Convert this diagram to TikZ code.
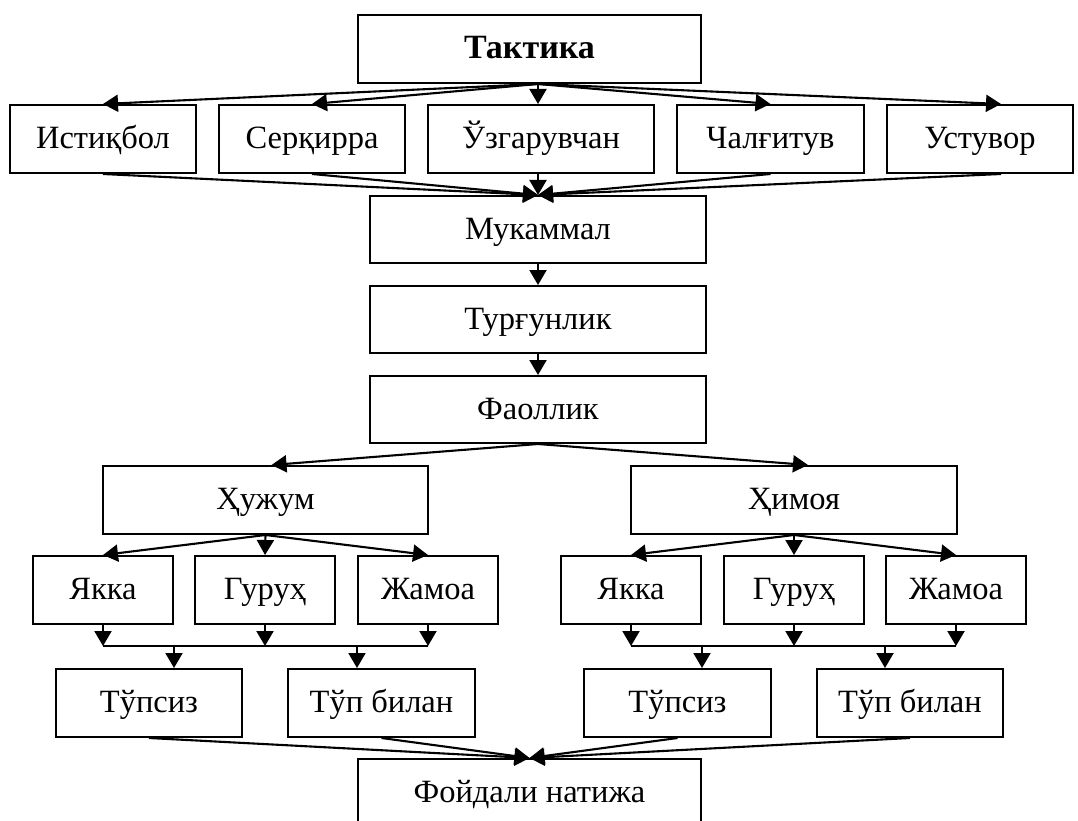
\documentclass[tikz,border=0pt]{standalone}
\usepackage{fontspec}
\setmainfont{Liberation Serif}
\usetikzlibrary{arrows.meta,calc}
\begin{document}
\begin{tikzpicture}[x=1pt,y=-1pt,
  box/.style={draw, line width=2pt, rectangle, inner sep=0pt, minimum height=68pt,
    text height=23pt, text depth=4pt,
    font=\fontsize{32.5}{38}\selectfont},
  arr/.style={line width=2.1pt, -{Triangle[length=15pt,width=17pt]}},
  ln/.style={line width=2.1pt}]
\useasboundingbox (0,0) rectangle (1078,821);
% top
\node[box, minimum width=343pt, font=\fontsize{34}{40}\selectfont\bfseries] (takt) at (529.5,49) {Тактика};
\node[box, minimum width=186pt] (ist) at (103,139) {Истиқбол};
\node[box, minimum width=186pt] (ser) at (312,139) {Серқирра};
\node[box, minimum width=226pt] (uzg) at (541,139) {Ўзгарувчан};
\node[box, minimum width=187pt] (chal) at (770.5,139) {Чалғитув};
\node[box, minimum width=186pt] (ust) at (980,139) {Устувор};
\node[box, minimum width=336pt, minimum height=67pt] (muk) at (538,229.5) {Мукаммал};
\node[box, minimum width=336pt, minimum height=67pt] (turg) at (538,319.5) {Турғунлик};
\node[box, minimum width=336pt, minimum height=67pt] (faol) at (538,409.5) {Фаоллик};
% attack / defence
\node[box, minimum width=325pt] (huj) at (265.5,500) {Ҳужум};
\node[box, minimum width=326pt] (him) at (794,500) {Ҳимоя};
\node[box, minimum width=140pt] (ya1) at (103,590) {Якка};
\node[box, minimum width=140pt] (gu1) at (265,590) {Гуруҳ};
\node[box, minimum width=140pt] (ja1) at (428,590) {Жамоа};
\node[box, minimum width=140pt] (ya2) at (631,590) {Якка};
\node[box, minimum width=140pt] (gu2) at (794,590) {Гуруҳ};
\node[box, minimum width=140pt] (ja2) at (956,590) {Жамоа};
\node[box, minimum width=186pt] (ts1) at (149,703) {Тўпсиз};
\node[box, minimum width=187pt] (tb1) at (381.5,703) {Тўп билан};
\node[box, minimum width=187pt] (ts2) at (677.5,703) {Тўпсиз};
\node[box, minimum width=186pt] (tb2) at (910,703) {Тўп билан};
\node[box, minimum width=343pt] (foy) at (529.5,793) {Фойдали натижа};
\coordinate (hl) at (0,646);
\coordinate (tk) at ($(takt.south)+(8.5,0)$);
% connectors top
\draw[arr] (tk) -- (ist.north);
\draw[arr] (tk) -- (ser.north);
\draw[arr] (tk) -- (tk |- uzg.north);
\draw[arr] (tk) -- (chal.north);
\draw[arr] (tk) -- ($(ust.north)+(21,0)$);
\draw[arr] (ist.south) -- (muk.north);
\draw[arr] (ser.south) -- (muk.north);
\draw[arr] (uzg.south -| muk.north) -- (muk.north);
\draw[arr] (chal.south) -- (muk.north);
\draw[arr] ($(ust.south)+(21,0)$) -- (muk.north);
\draw[arr] (muk.south) -- (turg.north);
\draw[arr] (turg.south) -- (faol.north);
\draw[arr] (faol.south) -- ($(huj.north)+(6,0)$);
\draw[arr] (faol.south) -- ($(him.north)+(14,0)$);
% left branch
\draw[arr] (huj.south) -- (ya1.north);
\draw[arr] (huj.south) -- (gu1.north);
\draw[arr] (huj.south) -- (ja1.north);
\draw[arr] (ya1.south) -- (ya1.south |- hl);
\draw[arr] (gu1.south) -- (gu1.south |- hl);
\draw[arr] (ja1.south) -- (ja1.south |- hl);
\draw[ln] (ya1.south |- hl) -- (ja1.south |- hl);
\draw[arr] (ya1.east |- hl) -- (ya1.east |- ts1.north);
\draw[arr] (ja1.west |- hl) -- (ja1.west |- tb1.north);
% right branch
\draw[arr] (him.south) -- (ya2.north);
\draw[arr] (him.south) -- (gu2.north);
\draw[arr] (him.south) -- (ja2.north);
\draw[arr] (ya2.south) -- (ya2.south |- hl);
\draw[arr] (gu2.south) -- (gu2.south |- hl);
\draw[arr] (ja2.south) -- (ja2.south |- hl);
\draw[ln] (ya2.south |- hl) -- (ja2.south |- hl);
\draw[arr] (ya2.east |- hl) -- (ya2.east |- ts2.north);
\draw[arr] (ja2.west |- hl) -- (ja2.west |- tb2.north);
% bottom
\draw[arr] (ts1.south) -- (foy.north);
\draw[arr] (tb1.south) -- (foy.north);
\draw[arr] (ts2.south) -- (foy.north);
\draw[arr] (tb2.south) -- (foy.north);
\end{tikzpicture}
\end{document}
